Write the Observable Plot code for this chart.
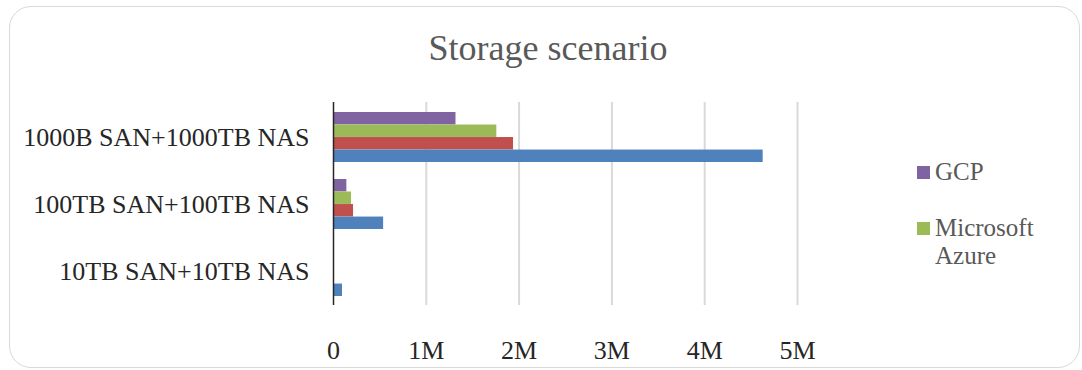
<!DOCTYPE html>
<html>
<head>
<meta charset="utf-8">
<script src="https://cdn.jsdelivr.net/npm/d3@7"></script>
<script src="https://cdn.jsdelivr.net/npm/@observablehq/plot@0.6"></script>
<style>
  html, body { margin: 0; padding: 0; background: #fff; }
  #wrap { position: relative; width: 1082px; height: 370px; overflow: hidden; font-family: "Liberation Serif", "DejaVu Serif", serif; }
  #frame { position: absolute; left: 9px; top: 6px; width: 1071px; height: 362px; border: 1.5px solid #d9d9d9; border-radius: 22px; box-sizing: border-box; }
  #title { position: absolute; left: 0; width: 1096px; top: 27px; text-align: center; font-size: 36px; line-height: 42px; color: #595959; }
  #chart { position: absolute; left: 0; top: 0; }
  #legend { position: absolute; left: 917px; top: 158px; font-size: 25px; color: #595959; line-height: 28px; }
  .item { display: flex; align-items: flex-start; margin-bottom: 28px; }
  .sw { width: 13px; height: 13px; margin-top: 8px; margin-right: 5px; flex: none; }
</style>
</head>
<body>
<div id="wrap">
  <div id="frame"></div>
  <div id="chart"></div>
  <div id="title">Storage scenario</div>
  <div id="legend"></div>
</div>
<script>
// Categories (top to bottom)
const categories = ["1000B SAN+1000TB NAS", "100TB SAN+100TB NAS", "10TB SAN+10TB NAS"];
// Series (top to bottom within each group); only GCP and Microsoft Azure are visible in the legend
const series = ["GCP", "Microsoft Azure", "Series 2", "Series 1"];
const colors = ["#8064A2", "#9BBB59", "#C0504D", "#4F81BD"];
// Values per series, in category order
const gcp   = [1320000, 144000, 5000];
const azure = [1760000, 194000, 5000];
const s2    = [1940000, 216000, 10000];
const s1    = [4630000, 540000, 97000];
const seriesValues = [gcp, azure, s2, s1];
const xTicks = [0, 1000000, 2000000, 3000000, 4000000, 5000000];
const xTickLabels = ["0", "1M", "2M", "3M", "4M", "5M"];
const legendSeries = ["GCP", "Microsoft Azure"];

const data = [];
series.forEach((s, i) => categories.forEach((c, j) => data.push({category: c, series: s, value: seriesValues[i][j]})));

const W = 1082, H = 370;
const mTop = 102, mBottom = 65, mLeft = 333, mRight = 285;
const pInner = 0.26, pOuter = 0.13;
const step = (H - mTop - mBottom) / (categories.length - pInner + 2 * pOuter);
const bw = step * (1 - pInner);
const sub = bw / series.length;

const barMarks = series.map((s, i) => Plot.barX(data.filter(d => d.series === s), {
  x: "value", y: "category", fill: colors[i],
  insetTop: i * sub, insetBottom: (series.length - 1 - i) * sub
}));

const plot = Plot.plot({
  width: W, height: H,
  marginTop: mTop, marginBottom: mBottom, marginLeft: mLeft, marginRight: mRight,
  style: {fontFamily: '"Liberation Serif", "DejaVu Serif", serif', fontSize: "26px", background: "transparent", overflow: "visible"},
  x: {domain: [0, 5000000]},
  y: {domain: categories, paddingInner: pInner, paddingOuter: pOuter},
  marks: [
    Plot.ruleX(xTicks.slice(1), {stroke: "#d9d9d9", strokeWidth: 2}),
    ...barMarks,
    Plot.ruleX([0], {stroke: "#262626", strokeWidth: 1.5}),
    Plot.axisX({ticks: xTicks, tickFormat: d => xTickLabels[xTicks.indexOf(d)], tickSize: 0, tickPadding: 35, fill: "#262626", fontSize: 26, label: null}),
    Plot.axisY({tickSize: 0, tickPadding: 24, fill: "#262626", fontSize: 26, label: null})
  ]
});
document.getElementById("chart").appendChild(plot);

const legend = document.getElementById("legend");
legendSeries.forEach(name => {
  const i = series.indexOf(name);
  const item = document.createElement("div");
  item.className = "item";
  const sw = document.createElement("div");
  sw.className = "sw";
  sw.style.background = colors[i];
  const label = document.createElement("div");
  label.innerHTML = name === "Microsoft Azure" ? "Microsoft<br>Azure" : name;
  item.appendChild(sw); item.appendChild(label);
  legend.appendChild(item);
});
</script>
</body>
</html>
